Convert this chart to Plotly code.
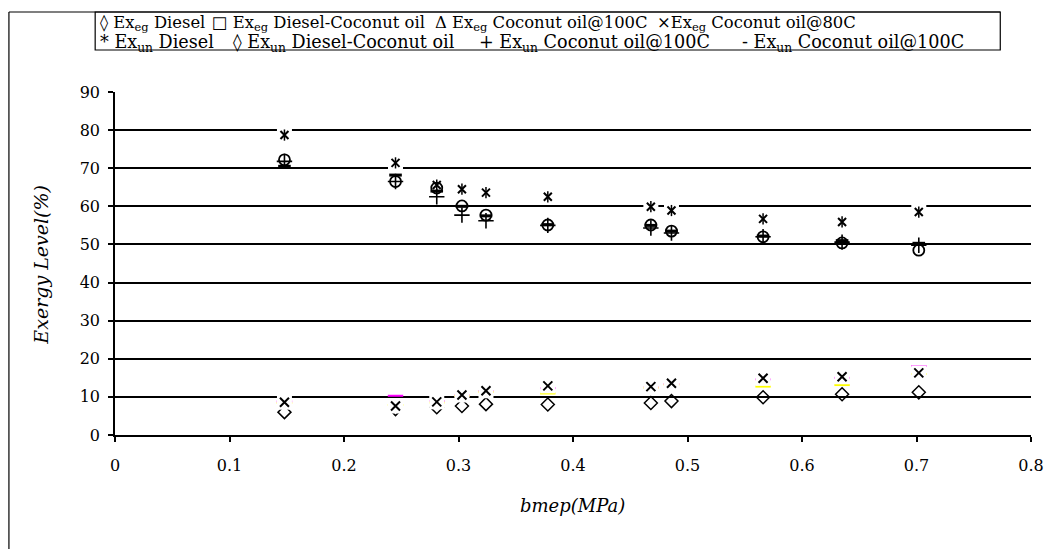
import plotly.graph_objects as go

# bmep load points (MPa)
bmep = [0.148, 0.245, 0.281, 0.303, 0.324, 0.378, 0.468, 0.486, 0.566, 0.635, 0.702]

# Exhaust-gas exergy (%)
ex_eg_diesel = [6.0, 6.8, 7.3, 7.6, 8.1, 8.0, 8.4, 8.9, 9.9, 10.7, 11.2]
ex_eg_diesel_coconut = [8.8, 10.3, 8.9, 10.4, 11.5, 12.3, 12.5, 13.4, 14.6, 15.0, 18.1]
ex_eg_coconut_100 = [8.4, 7.9, 8.5, 10.3, 11.3, 10.9, 12.4, 13.2, 12.7, 13.1, 16.0]
ex_eg_coconut_80 = [8.6, 7.6, 8.7, 10.5, 11.6, 12.9, 12.7, 13.6, 14.9, 15.3, 16.3]

# Unavailable exergy (%)
ex_un_diesel = [78.7, 71.4, 65.6, 64.5, 63.6, 62.5, 59.9, 58.9, 56.7, 55.9, 58.5]
ex_un_diesel_coconut = [72.2, 66.5, 64.8, 60.1, 57.7, 55.1, 55.1, 53.5, 52.0, 50.4, 48.5]
ex_un_coconut_100 = [71.8, 66.5, 62.5, 57.7, 56.2, 55.0, 54.3, 53.0, 52.0, 50.6, 49.8]
ex_un_coconut_80 = [70.5, 68.2, 64.0, 60.0, 57.5, 55.2, 55.0, 53.5, 52.2, 51.0, 50.3]

# legend entries, one row per group
legend_row1 = ["◊ Ex<sub>eg</sub> Diesel",
               "□ Ex<sub>eg</sub> Diesel-Coconut oil",
               "Δ Ex<sub>eg</sub> Coconut oil@100C",
               "×Ex<sub>eg</sub> Coconut oil@80C"]
legend_row2 = ["* Ex<sub>un</sub> Diesel",
               "◊ Ex<sub>un</sub> Diesel-Coconut oil",
               "+ Ex<sub>un</sub> Coconut oil@100C",
               "- Ex<sub>un</sub> Coconut oil@100C"]

x_ticks = [0, 0.1, 0.2, 0.3, 0.4, 0.5, 0.6, 0.7, 0.8]
x_tick_text = ["0", "0.1", "0.2", "0.3", "0.4", "0.5", "0.6", "0.7", "0.8"]
y_ticks = [0, 10, 20, 30, 40, 50, 60, 70, 80, 90]

FONT = "DejaVu Serif"
W, H = 1056, 549
ML, MR, MT, MB = 115, 17, 92, 114
PW, PH = W - ML - MR, H - MT - MB


def px(x):
    return (x - ML) / PW


def py(y):
    return (H - MB - y) / PH


def scatter(y, symbol, size, color="black", width=1.5, fill=None):
    return go.Scatter(
        x=bmep, y=y, mode="markers", showlegend=False, hoverinfo="skip",
        marker=dict(symbol=symbol, size=size,
                    color=fill if fill else color,
                    line=dict(color=color, width=width)),
    )


fig = go.Figure()
# exhaust-gas exergy
fig.add_trace(scatter(ex_eg_diesel, "diamond-open", 10))
fig.add_trace(scatter(ex_eg_diesel_coconut, "line-ew-open", 11, color="#FF00FF", width=2))
fig.add_trace(scatter(ex_eg_coconut_100, "line-ew-open", 11, color="#FFFF00", width=2))
fig.add_trace(scatter(ex_eg_coconut_80, "square", 15, color="white", width=0, fill="white"))
fig.add_trace(scatter(ex_eg_coconut_80, "x-thin-open", 9, width=2))
# unavailable exergy
fig.add_trace(scatter(ex_un_diesel, "square", 15, color="white", width=0, fill="white"))
fig.add_trace(scatter(ex_un_diesel, "x-thin-open", 8, width=2))
fig.add_trace(scatter(ex_un_diesel, "line-ns-open", 8, width=1.5))
fig.add_trace(scatter(ex_un_diesel_coconut, "circle-open", 11, width=1.8))
fig.add_trace(scatter(ex_un_coconut_100, "cross-thin-open", 11, width=1.6))
fig.add_trace(scatter(ex_un_coconut_80, "line-ew-open", 9, width=3))

frame = dict(color="black", width=1.2)
shapes = [
    # outer chart frame
    dict(type="line", xref="paper", yref="paper", x0=px(8), x1=px(8), y0=py(12), y1=py(560), line=frame),
    dict(type="line", xref="paper", yref="paper", x0=px(8), x1=px(1008), y0=py(12), y1=py(12), line=frame),
    # legend box
    dict(type="rect", xref="paper", yref="paper", x0=px(95), x1=px(1008), y0=py(12), y1=py(50), line=frame),
]

ROW1_FONT = dict(family=FONT, size=16.4, color="black")
ROW2_FONT = dict(family=FONT, size=17.6, color="black")
row1_x = [98, 211, 436, 660]
row2_x = [98, 232, 480, 745]
annotations = []
for txt, x in zip(legend_row1, row1_x):
    annotations.append(dict(text=txt, x=px(x), y=py(24), xref="paper", yref="paper",
                            xanchor="left", yanchor="middle", showarrow=False, font=ROW1_FONT))
for txt, x in zip(legend_row2, row2_x):
    annotations.append(dict(text=txt, x=px(x), y=py(43), xref="paper", yref="paper",
                            xanchor="left", yanchor="middle", showarrow=False, font=ROW2_FONT))
annotations += [
    dict(text="<i>Exergy Level(%)</i>", x=px(40), y=py(265), xref="paper", yref="paper",
         textangle=-90, xanchor="center", yanchor="middle", showarrow=False,
         font=dict(family=FONT, size=19, color="black")),
    dict(text="<i>bmep(MPa)</i>", x=px(576), y=py(505), xref="paper", yref="paper",
         xanchor="center", yanchor="middle", showarrow=False,
         font=dict(family=FONT, size=18, color="black")),
]

fig.update_layout(
    width=W, height=H,
    margin=dict(l=ML, r=MR, t=MT, b=MB),
    paper_bgcolor="white", plot_bgcolor="white",
    font=dict(family=FONT, size=16, color="black"),
    shapes=shapes, annotations=annotations,
    xaxis=dict(range=[0, 0.8], tickvals=x_ticks, ticktext=x_tick_text,
               showgrid=False, zeroline=False, showline=True, linecolor="black", linewidth=1.5,
               ticks="outside", ticklen=5, tickwidth=1.5, tickcolor="black",
               ticklabelstandoff=10, tickfont=dict(family=FONT, size=16)),
    yaxis=dict(range=[0, 90], tickvals=y_ticks,
               showgrid=True, gridcolor="black", gridwidth=1.6, zeroline=False,
               showline=True, linecolor="black", linewidth=1.5,
               ticks="outside", ticklen=5, tickwidth=1.5, tickcolor="black",
               ticklabelstandoff=5, tickfont=dict(family=FONT, size=16)),
)

fig.write_html("out.html")
